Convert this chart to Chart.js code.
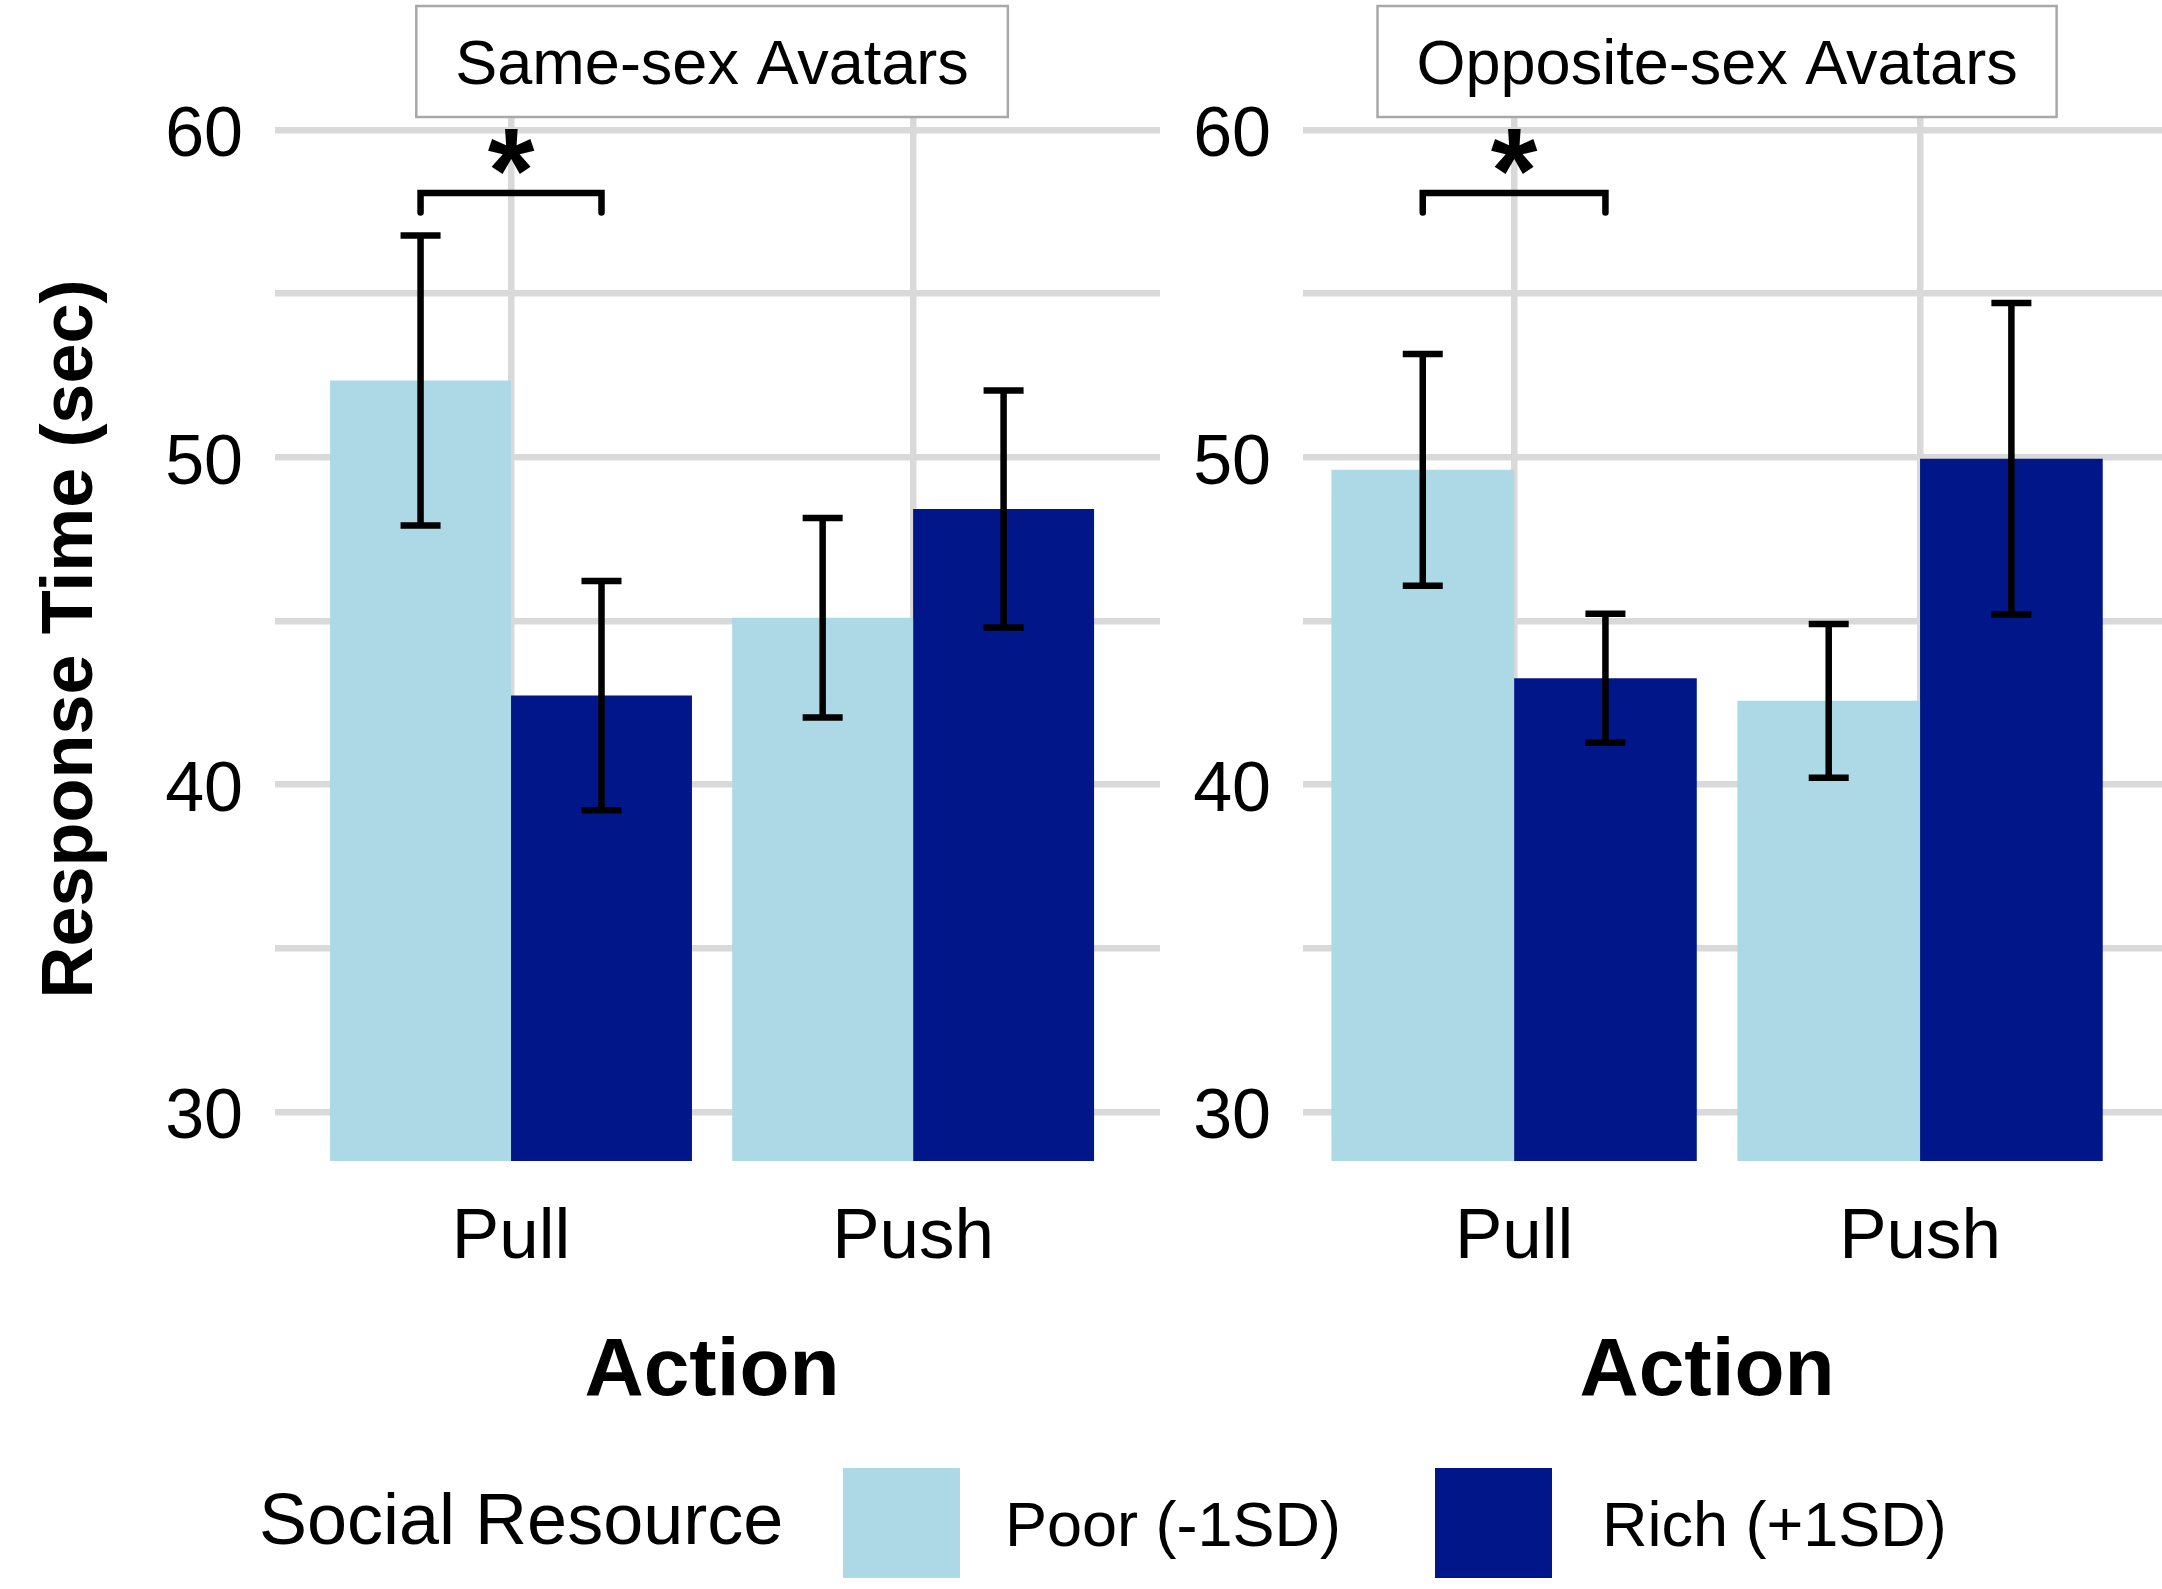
<!DOCTYPE html>
<html lang="en">
<head>
    <meta charset="UTF-8">
    <title>Response Time by Action and Social Resource</title>
    <script src="https://cdn.jsdelivr.net/npm/chart.js"></script>
    <style>
        html, body { margin: 0; padding: 0; background: #fff; }
        body { width: 2162px; height: 1589px; position: relative; overflow: hidden;
               font-family: "Liberation Sans", Arial, sans-serif; color: #000; }
        .panel { position: absolute; top: 0; height: 1440px; }
        #panelSame { left: 0; width: 1165px; }
        #panelOpp { left: 1165px; width: 997px; }
        .leg { position: absolute; white-space: nowrap; }
        .leg-title { left: 259px; top: 1464px; line-height: 110px; font-size: 72px; }
        .leg-box { top: 1468px; width: 117px; height: 110px; }
        .leg-label { top: 1469px; line-height: 110px; font-size: 63px; }
    </style>
</head>
<body>
    <div class="panel" id="panelSame"><canvas id="sameChart"></canvas></div>
    <div class="panel" id="panelOpp"><canvas id="oppChart"></canvas></div>
    <div id="legend"></div>

    <script>
        // datos
        const actions = ["Pull", "Push"];
        const groups = ["Poor (-1SD)", "Rich (+1SD)"];
        const groupColors = ["#ADD8E6", "#001689"];
        const panelTitles = ["Same-sex Avatars", "Opposite-sex Avatars"];
        const yTicks = [30, 35, 40, 45, 50, 55, 60];

        const samePoor = [52.35, 45.10];
        const sameRich = [42.72, 48.42];
        const samePoorErr = [4.43, 3.05];
        const sameRichErr = [3.50, 3.62];

        const oppPoor = [49.62, 42.56];
        const oppRich = [43.25, 49.96];
        const oppPoorErr = [3.54, 2.35];
        const oppRichErr = [1.97, 4.76];

        // corchete de significancia (accion, altura, caida)
        const sigAction = 0;
        const sigLevel = 58.08;
        const sigDrop = 0.6;
        const sigLabel = "*";

        const FONT = '"Liberation Sans", Arial, sans-serif';

        const errorBars = {
            id: "errorBars",
            afterDatasetsDraw(chart) {
                const ctx = chart.ctx;
                const y = chart.scales.y;
                ctx.save();
                ctx.strokeStyle = "#000";
                ctx.lineWidth = 6.5;
                chart.data.datasets.forEach((ds, di) => {
                    chart.getDatasetMeta(di).data.forEach((bar, i) => {
                        const v = ds.data[i].y, e = ds.errors[i];
                        const top = y.getPixelForValue(v + e);
                        const bot = y.getPixelForValue(v - e);
                        ctx.beginPath();
                        ctx.moveTo(bar.x, top); ctx.lineTo(bar.x, bot);
                        ctx.moveTo(bar.x - 20, top); ctx.lineTo(bar.x + 20, top);
                        ctx.moveTo(bar.x - 20, bot); ctx.lineTo(bar.x + 20, bot);
                        ctx.stroke();
                    });
                });

                // corchete
                const x1 = chart.getDatasetMeta(0).data[sigAction].x;
                const x2 = chart.getDatasetMeta(1).data[sigAction].x;
                const yb = y.getPixelForValue(sigLevel);
                const yd = y.getPixelForValue(sigLevel - sigDrop);
                ctx.lineCap = "round";
                ctx.beginPath();
                ctx.moveTo(x1, yd); ctx.lineTo(x1, yb); ctx.lineTo(x2, yb); ctx.lineTo(x2, yd);
                ctx.stroke();
                ctx.fillStyle = "#000";
                ctx.font = "bold 120px " + FONT;
                ctx.textAlign = "center";
                ctx.textBaseline = "alphabetic";
                ctx.fillText(sigLabel, chart.scales.x.getPixelForValue(sigAction + 1), yb + 19);
                ctx.restore();
            }
        };

        const stripAndTitle = {
            id: "stripAndTitle",
            afterDraw(chart, args, opts) {
                const ctx = chart.ctx;
                const cx = chart.scales.x.getPixelForValue(1.5);
                ctx.save();
                ctx.font = "63px " + FONT;
                const w = ctx.measureText(opts.text).width + 78;
                ctx.fillStyle = "#fff";
                ctx.fillRect(cx - w / 2, 6, w, 111);
                ctx.strokeStyle = "#a8a8a8";
                ctx.lineWidth = 2.5;
                ctx.strokeRect(cx - w / 2, 6, w, 111);
                ctx.fillStyle = "#000";
                ctx.textAlign = "center";
                ctx.textBaseline = "alphabetic";
                ctx.fillText(opts.text, cx, 84);

                ctx.font = "bold 82px " + FONT;
                ctx.fillText("Action", cx + opts.titleShift, 1395);
                ctx.restore();
            }
        };

        function makeChart(id, poor, rich, poorErr, richErr, title, opts) {
            return new Chart(document.getElementById(id), {
                type: "bar",
                data: {
                    datasets: [
                        {
                            label: groups[0],
                            data: poor.map((v, i) => ({ x: i + 1, y: v })),
                            errors: poorErr,
                            backgroundColor: groupColors[0]
                        },
                        {
                            label: groups[1],
                            data: rich.map((v, i) => ({ x: i + 1, y: v })),
                            errors: richErr,
                            backgroundColor: groupColors[1]
                        }
                    ]
                },
                options: {
                    responsive: true,
                    maintainAspectRatio: false,
                    animation: false,
                    categoryPercentage: 0.9,
                    barPercentage: 1.0,
                    layout: { padding: { top: 117, right: opts.padRight, left: 0, bottom: 0 } },
                    plugins: {
                        legend: { display: false },
                        tooltip: { enabled: false },
                        stripAndTitle: { text: title, titleShift: opts.titleShift }
                    },
                    scales: {
                        x: {
                            type: "linear",
                            min: opts.xMin,
                            max: opts.xMax,
                            offset: false,
                            grid: { offset: false, color: "#d9d9d9", lineWidth: 6.5, drawTicks: false },
                            border: { display: false },
                            afterBuildTicks: (axis) => { axis.ticks = actions.map((a, i) => ({ value: i + 1 })); },
                            afterFit: (axis) => { axis.height = 279; },
                            ticks: {
                                callback: (v) => actions[v - 1],
                                font: { family: FONT, size: 71 },
                                color: "#000",
                                padding: 35,
                                maxRotation: 0
                            }
                        },
                        y: {
                            min: 28.5,
                            max: 60.4,
                            beginAtZero: false,
                            grid: { color: "#d9d9d9", lineWidth: 6.5, drawTicks: false },
                            border: { display: false },
                            afterBuildTicks: (axis) => { axis.ticks = yTicks.map(v => ({ value: v })); },
                            afterFit: (axis) => { axis.width = opts.yWidth; },
                            ticks: {
                                callback: (v) => (v % 10 === 0 ? v : ""),
                                font: { family: FONT, size: 70 },
                                color: "#000",
                                padding: 32,
                                labelOffset: 7
                            },
                            title: {
                                display: opts.showTitle,
                                text: "Response Time (sec)",
                                font: { family: FONT, size: 72, weight: "bold" },
                                color: "#000",
                                padding: { top: 29, bottom: 0 }
                            }
                        }
                    }
                },
                plugins: [errorBars, stripAndTitle]
            });
        }

        const sameChart = makeChart("sameChart", samePoor, sameRich, samePoorErr, sameRichErr,
            panelTitles[0], { xMin: 0.413, xMax: 2.614, padRight: 5, yWidth: 275, showTitle: true, titleShift: 0 });
        const oppChart = makeChart("oppChart", oppPoor, oppRich, oppPoorErr, oppRichErr,
            panelTitles[1], { xMin: 0.48, xMax: 2.596, padRight: 0, yWidth: 138, showTitle: false, titleShift: -10 });

        // leyenda
        const legend = document.getElementById("legend");
        const boxLeft = [843, 1435];
        const labelLeft = [1005, 1602];
        legend.innerHTML = '<div class="leg leg-title">Social Resource</div>';
        sameChart.data.datasets.forEach((ds, i) => {
            legend.innerHTML +=
                '<div class="leg leg-box" style="left:' + boxLeft[i] + 'px;background:' + ds.backgroundColor + '"></div>' +
                '<div class="leg leg-label" style="left:' + labelLeft[i] + 'px">' + ds.label + '</div>';
        });
    </script>
</body>
</html>
